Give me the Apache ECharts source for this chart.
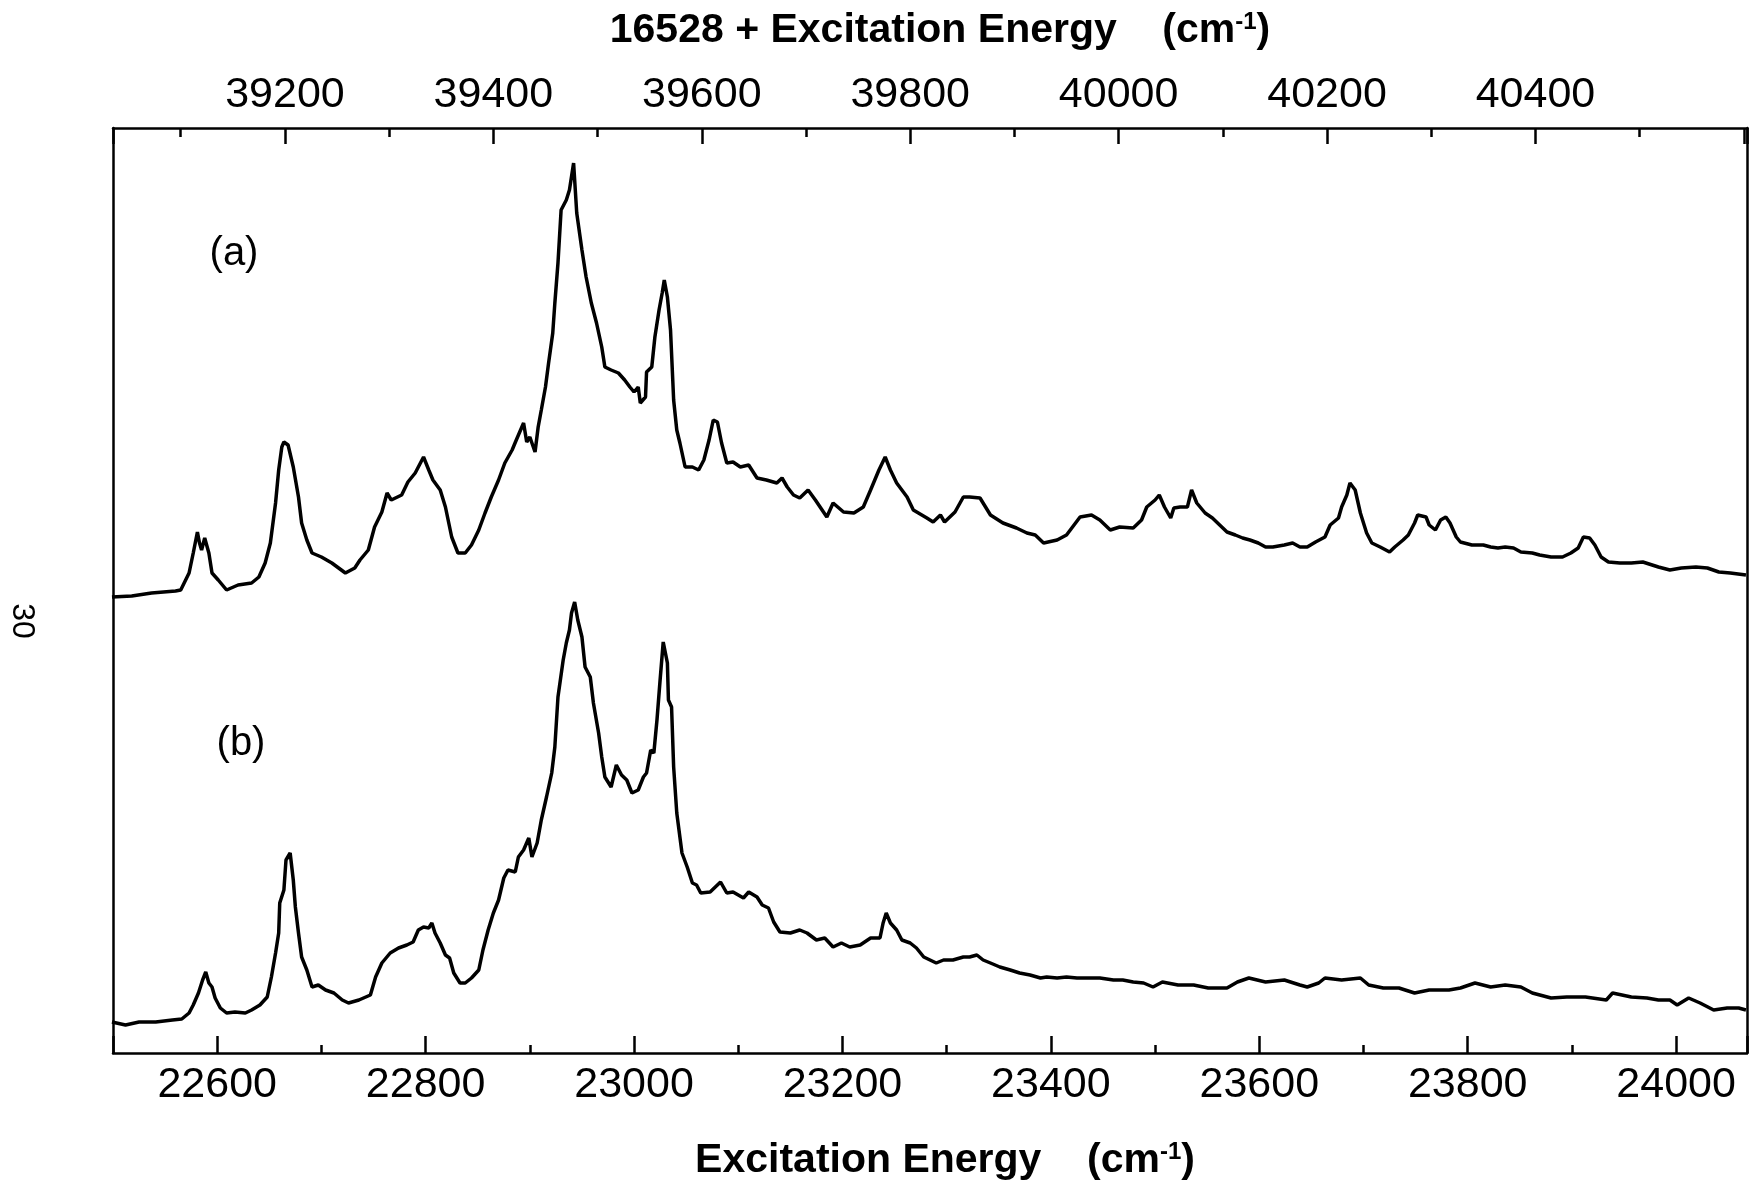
<!DOCTYPE html>
<html lang="en">

<head>
    <meta charset="UTF-8">
    <title>Excitation Spectra</title>
    <script src="https://cdn.jsdelivr.net/npm/echarts@6/dist/echarts.min.js"></script>
    <style>
        html, body { margin: 0; background: #fff; }
        #chart { width: 1754px; height: 1185px; }
    </style>
</head>

<body>
    <div id="chart"></div>

    <script>
        // trace (a): wavenumber (cm-1) and height above the bottom frame (arb. units)
        var waveA = [22499, 22518, 22537, 22560, 22565, 22573, 22577, 22581, 22583, 22585, 22588, 22592, 22595, 22601, 22609,
            22620, 22633, 22640, 22646, 22651, 22656, 22659, 22662, 22664, 22668, 22673, 22678, 22681, 22686, 22691,
            22700, 22710, 22723, 22732, 22737, 22745, 22751, 22758, 22763, 22767, 22777, 22783, 22790, 22798, 22803,
            22807, 22814, 22819, 22825, 22831, 22838, 22844, 22851, 22857, 22863, 22870, 22876, 22883, 22887, 22894,
            22897, 22900, 22905, 22908, 22911, 22915, 22918, 22922, 22924, 22927, 22930, 22935, 22938, 22942, 22945,
            22950, 22954, 22959, 22964, 22969, 22972, 22978, 22985, 22991, 22996,
            23000, 23004, 23006, 23011, 23012, 23017, 23020, 23024, 23027, 23029, 23032, 23035, 23038, 23041, 23044,
            23049, 23056, 23062, 23067, 23072, 23076, 23080, 23084, 23089, 23095, 23102, 23110, 23118, 23127, 23137,
            23142, 23147, 23153, 23159, 23167, 23174, 23185, 23191, 23201, 23211, 23220, 23227, 23235, 23241, 23246,
            23252, 23262, 23268, 23281, 23287, 23294, 23298, 23308, 23316, 23322, 23332, 23342, 23354, 23367, 23377,
            23385, 23393, 23406, 23415, 23428, 23439, 23447, 23457, 23466, 23479, 23487, 23492,
            23500, 23504, 23509, 23515, 23518, 23524, 23531, 23535, 23540, 23548, 23555, 23562, 23569, 23577, 23584,
            23591, 23599, 23606, 23613, 23624, 23632, 23639, 23646, 23654, 23663, 23668, 23676, 23679, 23684, 23687,
            23692, 23697, 23703, 23708, 23716, 23725, 23730, 23738, 23743, 23749, 23752, 23760, 23763, 23769, 23774,
            23779, 23783, 23789, 23793, 23804, 23815, 23822, 23829, 23836, 23844, 23851, 23862, 23869, 23880, 23891,
            23899, 23906, 23911, 23917, 23922, 23928, 23935, 23946, 23957, 23968, 23983, 23994, 24005, 24019, 24030,
            24041, 24052, 24067];
        var intA = [456, 457, 460, 462, 463, 480, 500, 521, 510, 503, 515, 500, 480, 473, 463,
            468, 470, 476, 490, 510, 550, 583, 606, 611, 608, 586, 556, 530, 513, 500,
            496, 490, 480, 485, 493, 503, 526, 541, 560, 553, 558, 571, 580, 596, 583,
            573, 563, 546, 516, 500, 500, 508, 523, 540, 556, 573, 590, 603, 613, 630,
            611, 616, 601, 626, 643, 666, 690, 720, 750, 790, 843, 853, 863, 890, 840,
            803, 776, 750, 730, 706, 686, 683, 680, 673, 666,
            661, 666, 650, 656, 681, 686, 716, 743, 760, 773, 756, 723, 653, 623, 610,
            586, 586, 583, 593, 613, 633, 631, 610, 590, 591, 586, 588, 575, 573, 570,
            575, 566, 558, 555, 563, 553, 536, 550, 541, 540, 546, 563, 583, 596, 583,
            570, 556, 543, 535, 531, 538, 531, 541, 556, 556, 555, 538, 530, 525, 520,
            518, 510, 513, 518, 536, 538, 533, 523, 526, 525, 533, 546,
            553, 558, 546, 535, 545, 546, 546, 563, 550, 540, 535, 528, 521, 518, 515,
            513, 510, 506, 506, 508, 510, 506, 506, 511, 516, 528, 535, 546, 558, 570,
            563, 540, 520, 510, 506, 501, 506, 513, 518, 530, 538, 536, 528, 523, 533,
            536, 530, 516, 511, 508, 508, 506, 505, 506, 505, 501, 500, 498, 496, 496,
            500, 505, 516, 515, 508, 496, 491, 490, 490, 491, 486, 483, 485, 486, 485,
            481, 480, 478];

        // trace (b)
        var waveB = [22499, 22512, 22525, 22541, 22557, 22566, 22573, 22577, 22582, 22586, 22589, 22592, 22595, 22598, 22603,
            22609, 22617, 22627, 22633, 22641, 22648, 22652, 22656, 22659, 22660, 22664, 22666, 22670, 22673, 22675,
            22678, 22681, 22686, 22691, 22697, 22704, 22712, 22720, 22726, 22736, 22747, 22752, 22758, 22766, 22774,
            22782, 22788, 22793, 22798, 22803, 22806, 22809, 22814, 22819, 22823, 22827, 22833, 22838, 22844, 22851,
            22855, 22860, 22865, 22870, 22875, 22879, 22886, 22889, 22894, 22899, 22902, 22907, 22911, 22916, 22921,
            22924, 22927, 22932, 22935, 22938, 22940, 22943, 22946, 22950, 22953, 22958, 22961, 22966, 22969, 22972,
            22978, 22983, 22988, 22993, 22998,
            23004, 23009, 23012, 23016, 23019, 23022, 23025, 23028, 23032, 23033, 23036, 23038, 23041, 23046, 23051,
            23056, 23060, 23064, 23073, 23083, 23089, 23095, 23105, 23110, 23118, 23123, 23129, 23134, 23140, 23150,
            23159, 23166, 23175, 23183, 23191, 23199, 23207, 23217, 23227, 23236, 23239, 23242, 23246, 23252, 23257,
            23265, 23271, 23278, 23284, 23290, 23297, 23306, 23316, 23322, 23329, 23335, 23342, 23351, 23361, 23370,
            23380, 23390, 23396, 23406, 23415, 23425, 23434, 23447, 23460, 23469, 23479, 23489, 23498,
            23507, 23522, 23537, 23551, 23569, 23579, 23590, 23606, 23624, 23639, 23646, 23657, 23663, 23679, 23697,
            23705, 23719, 23734, 23749, 23763, 23782, 23793, 23807, 23822, 23836, 23851, 23862, 23880, 23895, 23913,
            23933, 23939, 23957, 23972, 23983, 23994, 24001, 24012, 24023, 24036, 24049, 24060, 24067];
        var intB = [31, 28, 31, 31, 33, 34, 40, 48, 60, 73, 81, 70, 66, 55, 45,
            40, 41, 40, 43, 48, 56, 76, 100, 120, 150, 163, 193, 200, 173, 146,
            120, 96, 83, 66, 68, 63, 60, 53, 50, 53, 58, 76, 90, 100, 105,
            108, 111, 123, 126, 125, 130, 120, 110, 98, 95, 80, 70, 70, 75, 83,
            103, 123, 140, 153, 175, 183, 181, 196, 203, 215, 196, 210, 233, 256, 280,
            306, 356, 393, 410, 423, 440, 451, 433, 416, 386, 376, 350, 320, 296, 276,
            266, 288, 278, 273, 260,
            263, 276, 280, 303, 300, 333, 373, 411, 390, 353, 346, 286, 240, 200, 186,
            170, 168, 160, 161, 171, 160, 161, 155, 161, 156, 148, 145, 131, 121, 120,
            123, 120, 113, 115, 106, 110, 106, 108, 115, 115, 130, 140, 130, 123, 113,
            110, 105, 96, 93, 90, 93, 93, 96, 96, 98, 93, 90, 86, 83, 80,
            78, 75, 76, 75, 76, 75, 75, 75, 73, 73, 71, 70, 66,
            71, 68, 68, 65, 65, 71, 75, 71, 73, 68, 66, 70, 75, 73, 75,
            68, 65, 65, 60, 63, 63, 65, 70, 66, 68, 66, 60, 55, 56, 56,
            53, 60, 56, 55, 53, 53, 48, 55, 50, 43, 45, 45, 43];

        var bottomLabels = [22600, 22800, 23000, 23200, 23400, 23600, 23800, 24000];
        var topLabels = [39200, 39400, 39600, 39800, 40000, 40200, 40400];

        var xMin = 22500, xMax = 24068;
        var topShift = 16535;   // the printed top scale sits a few cm-1 off 16528
        var yMax = 925;

        function pairs(xs, ys) {
            var out = [];
            for (var i = 0; i < xs.length; i++) out.push([xs[i], ys[i]]);
            return out;
        }

        var font = "'Liberation Sans', Arial, Helvetica, sans-serif";
        var black = { color: '#000', width: 2.5 };

        function xAxisOf(grid, pos, shift, tickLen, labels, split, showLine) {
            var ax = {
                type: 'value',
                gridIndex: grid,
                position: pos,
                min: xMin + shift,
                max: xMax + shift,
                axisLine: { show: showLine, onZero: false, lineStyle: black },
                axisTick: { inside: true, length: tickLen, lineStyle: black },
                axisLabel: { show: false },
                splitLine: { show: false }
            };
            if (split) ax.splitNumber = split; else ax.interval = 100;
            if (labels) {
                ax.axisLabel = {
                    show: true,
                    margin: 11,
                    color: '#000',
                    fontSize: 43,
                    fontFamily: font,
                    formatter: function (v) { return labels.indexOf(v) >= 0 ? String(v) : ''; }
                };
            }
            return ax;
        }

        var chartDom = document.getElementById('chart');
        var myChart = echarts.init(chartDom);
        var option;

        option = {
            animation: false,
            backgroundColor: '#fff',
            grid: [
                { left: 113, right: 7, top: 128, bottom: 132 },
                { left: 113, right: 7, top: 128, bottom: 132 }
            ],
            xAxis: [
                xAxisOf(0, 'bottom', 0, 8, bottomLabels, null, true),
                xAxisOf(0, 'top', topShift, 9, null, 16, true),
                xAxisOf(1, 'bottom', 0, 17, null, 8, false),
                xAxisOf(1, 'top', topShift, 16, topLabels, 8, false)
            ],
            yAxis: [
                {
                    type: 'value', gridIndex: 0, min: 0, max: yMax, position: 'left',
                    axisLine: { show: true, onZero: false, lineStyle: black },
                    axisTick: { show: false }, axisLabel: { show: false }, splitLine: { show: false }
                },
                {
                    type: 'value', gridIndex: 0, min: 0, max: yMax, position: 'right',
                    axisLine: { show: true, onZero: false, lineStyle: black },
                    axisTick: { show: false }, axisLabel: { show: false }, splitLine: { show: false }
                },
                { type: 'value', gridIndex: 1, min: 0, max: yMax, show: false }
            ],
            graphic: [
                {
                    type: 'text', x: 940, y: 31,
                    style: {
                        text: '16528 + Excitation Energy    (cm{sup|-1})',
                        fill: '#000', fontSize: 41, fontWeight: 'bold', fontFamily: font,
                        align: 'center', verticalAlign: 'middle',
                        rich: { sup: { fontSize: 24, fontWeight: 'bold', fontFamily: font, verticalAlign: 'top' } }
                    }
                },
                {
                    type: 'text', x: 945, y: 1161,
                    style: {
                        text: 'Excitation Energy    (cm{sup|-1})',
                        fill: '#000', fontSize: 41, fontWeight: 'bold', fontFamily: font,
                        align: 'center', verticalAlign: 'middle',
                        rich: { sup: { fontSize: 24, fontWeight: 'bold', fontFamily: font, verticalAlign: 'top' } }
                    }
                },
                {
                    type: 'text', x: 234, y: 254,
                    style: { text: '(a)', fill: '#000', fontSize: 40, fontFamily: font, align: 'center', verticalAlign: 'middle' }
                },
                {
                    type: 'text', x: 241, y: 744,
                    style: { text: '(b)', fill: '#000', fontSize: 40, fontFamily: font, align: 'center', verticalAlign: 'middle' }
                },
                {
                    type: 'text', x: 22, y: 621, rotation: -Math.PI / 2,
                    style: { text: '30', fill: '#000', fontSize: 32, fontFamily: font, align: 'center', verticalAlign: 'middle' }
                }
            ],
            series: [
                {
                    name: '(a)', type: 'line', xAxisIndex: 0, yAxisIndex: 0,
                    showSymbol: false, lineStyle: { color: '#000', width: 3.5 },
                    data: pairs(waveA, intA)
                },
                {
                    name: '(b)', type: 'line', xAxisIndex: 0, yAxisIndex: 0,
                    showSymbol: false, lineStyle: { color: '#000', width: 3.5 },
                    data: pairs(waveB, intB)
                }
            ]
        };

        option && myChart.setOption(option);
    </script>
</body>

</html>
